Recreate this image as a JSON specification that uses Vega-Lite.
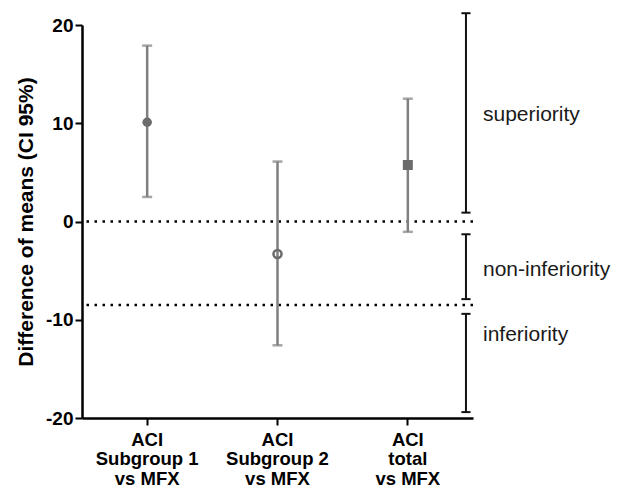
{
  "$schema": "https://vega.github.io/schema/vega-lite/v6.json",
  "autosize": {"type": "none"},
  "padding": {"left": 82, "top": 25, "right": 145, "bottom": 74},
  "width": 391,
  "height": 393,
  "background": "white",
  "config": {
    "view": {"stroke": null},
    "font": "Liberation Sans"
  },
  "datasets": {
    "estimates": [
      {"group": "ACI Subgroup 1 vs MFX", "mean": 10.1, "lower": 2.5, "upper": 17.9},
      {"group": "ACI Subgroup 2 vs MFX", "mean": -3.3, "lower": -12.6, "upper": 6.1},
      {"group": "ACI total vs MFX", "mean": 5.75, "lower": -1.05, "upper": 12.5}
    ],
    "zones": [
      {"zone": "superiority", "low": 0.9, "high": 21.2, "label_y": 10.8},
      {"zone": "non-inferiority", "low": -7.9, "high": -1.3, "label_y": -4.9},
      {"zone": "inferiority", "low": -19.4, "high": -9.4, "label_y": -11.6}
    ],
    "thresholds": [
      {"threshold": 0},
      {"threshold": -8.5}
    ]
  },
  "encoding": {
    "x": {
      "field": "group",
      "type": "nominal",
      "sort": null,
      "scale": {"domain": ["ACI Subgroup 1 vs MFX", "ACI Subgroup 2 vs MFX", "ACI total vs MFX"], "paddingInner": 0, "paddingOuter": 0},
      "axis": {
        "title": null,
        "labelAngle": 0,
        "labelExpr": "split(replace(replace(datum.label, 'ACI ', 'ACI|'), ' vs', '|vs'), '|')",
        "labelFont": "Liberation Sans",
        "labelFontSize": 18.5,
        "labelFontWeight": "bold",
        "labelColor": "#000000",
        "labelLineHeight": 19.5,
        "labelPadding": 5,
        "domainColor": "#000000",
        "domainWidth": 2.5,
        "tickColor": "#000000",
        "tickWidth": 2,
        "tickSize": 7
      }
    },
    "y": {
      "type": "quantitative",
      "scale": {"domain": [-20, 20], "nice": false, "zero": false},
      "axis": {
        "title": "Difference of means (CI 95%)",
        "titleFont": "Liberation Sans",
        "titleFontSize": 21,
        "titleFontWeight": "bold",
        "titleColor": "#000000",
        "titlePadding": 9,
        "values": [-20, -10, 0, 10, 20],
        "labelExpr": "toString(datum.value)",
        "grid": false,
        "labelFont": "Liberation Sans",
        "labelFontSize": 19,
        "labelFontWeight": "bold",
        "labelColor": "#000000",
        "labelPadding": 2,
        "domainColor": "#000000",
        "domainWidth": 2.5,
        "tickColor": "#000000",
        "tickWidth": 2,
        "tickSize": 7
      }
    }
  },
  "layer": [
    {
      "data": {"name": "thresholds"},
      "mark": {"type": "rule", "color": "#000000", "strokeWidth": 2.5, "strokeDash": [2.5, 5.5]},
      "encoding": {"y": {"field": "threshold", "type": "quantitative"}, "x": null}
    },
    {
      "data": {"name": "estimates"},
      "mark": {"type": "rule", "color": "#808080", "strokeWidth": 2.5},
      "encoding": {
        "y": {"field": "lower", "type": "quantitative"},
        "y2": {"field": "upper"}
      }
    },
    {
      "data": {"name": "estimates"},
      "mark": {"type": "tick", "color": "#808080", "size": 10, "thickness": 2.5},
      "encoding": {"y": {"field": "lower", "type": "quantitative"}}
    },
    {
      "data": {"name": "estimates"},
      "mark": {"type": "tick", "color": "#808080", "size": 10, "thickness": 2.5},
      "encoding": {"y": {"field": "upper", "type": "quantitative"}}
    },
    {
      "data": {"name": "estimates"},
      "transform": [{"filter": "datum.group !== 'ACI Subgroup 2 vs MFX'"}],
      "mark": {"type": "point", "filled": true, "color": "#6b6b6b", "opacity": 1},
      "encoding": {
        "y": {"field": "mean", "type": "quantitative"},
        "shape": {
          "field": "group",
          "type": "nominal",
          "scale": {"domain": ["ACI Subgroup 1 vs MFX", "ACI total vs MFX"], "range": ["circle", "square"]},
          "legend": null
        },
        "size": {
          "field": "group",
          "type": "nominal",
          "scale": {"domain": ["ACI Subgroup 1 vs MFX", "ACI total vs MFX"], "range": [90, 100]},
          "legend": null
        }
      }
    },
    {
      "data": {"name": "estimates"},
      "transform": [{"filter": "datum.group === 'ACI Subgroup 2 vs MFX'"}],
      "mark": {"type": "point", "filled": false, "shape": "circle", "color": "#6b6b6b", "strokeWidth": 2.5, "size": 65, "opacity": 1},
      "encoding": {"y": {"field": "mean", "type": "quantitative"}}
    },
    {
      "data": {"name": "zones"},
      "mark": {"type": "rule", "color": "#111111", "strokeWidth": 2},
      "encoding": {
        "x": {"datum": "ACI total vs MFX", "bandPosition": 0.946},
        "y": {"field": "low", "type": "quantitative"},
        "y2": {"field": "high"}
      }
    },
    {
      "data": {"name": "zones"},
      "mark": {"type": "rule", "color": "#111111", "strokeWidth": 2},
      "encoding": {
        "x": {"datum": "ACI total vs MFX", "bandPosition": 0.911},
        "x2": {"datum": "ACI total vs MFX", "bandPosition": 0.981},
        "y": {"field": "low", "type": "quantitative"}
      }
    },
    {
      "data": {"name": "zones"},
      "mark": {"type": "rule", "color": "#111111", "strokeWidth": 2},
      "encoding": {
        "x": {"datum": "ACI total vs MFX", "bandPosition": 0.911},
        "x2": {"datum": "ACI total vs MFX", "bandPosition": 0.981},
        "y": {"field": "high", "type": "quantitative"}
      }
    },
    {
      "data": {"name": "zones"},
      "mark": {"type": "text", "align": "left", "baseline": "middle", "dx": 17, "fontSize": 21, "font": "Liberation Sans", "color": "#1a1a1a"},
      "encoding": {
        "x": {"datum": "ACI total vs MFX", "bandPosition": 0.946},
        "y": {"field": "label_y", "type": "quantitative"},
        "text": {"field": "zone"}
      }
    }
  ]
}
